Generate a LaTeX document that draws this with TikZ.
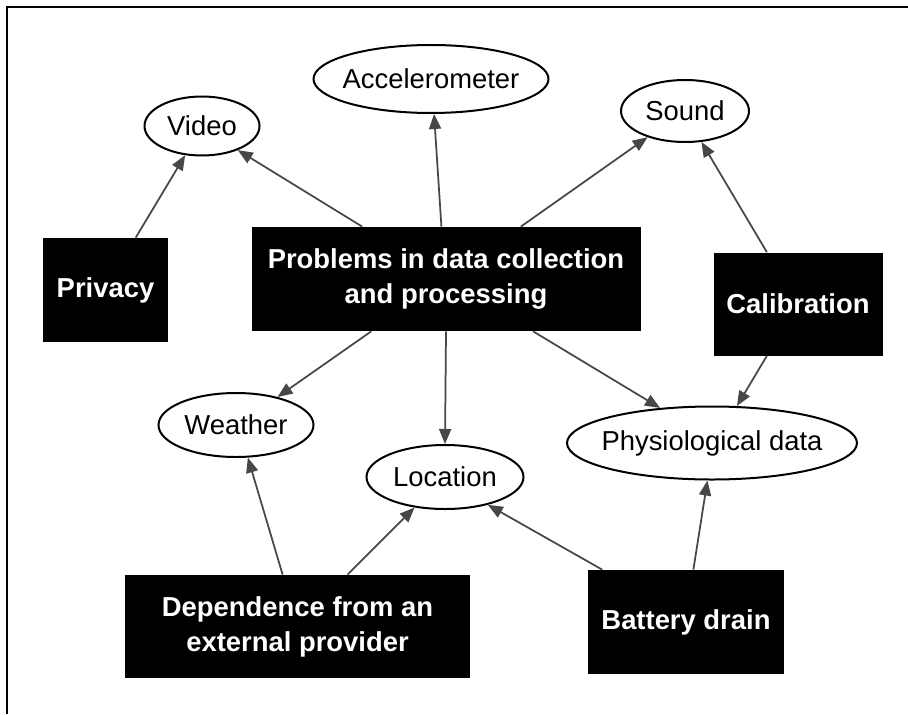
\documentclass[tikz,border=0pt]{standalone}
\usepackage{fontspec}
\setmainfont{Liberation Sans}
\usetikzlibrary{arrows.meta,shapes.geometric}
\newcommand{\ovtext}[1]{\makebox[0pt]{#1}}
\tikzset{
  issue/.style={fill=black, text=white, font=\fontsize{15.6}{20}\selectfont\bfseries, align=center, inner sep=0pt},
  source/.style={ellipse, draw, line width=0.4mm, font=\fontsize{15.6}{20}\selectfont, inner sep=0pt},
  link/.style={draw=black!72, line width=0.35mm, -{Triangle[length=3mm,width=2.4mm]}}
}
\begin{document}
\begin{tikzpicture}[x=0.2mm, y=-0.2mm]
  \useasboundingbox (0,0) rectangle (908,714);
  \draw [line width=0.5mm] (7,714) -- (7,7) -- (908,7);
  % problems
  \node[issue, minimum width=77.8mm, minimum height=20.8mm] (prob) at (446,279) {Problems in data collection\\and processing};
  \node[issue, minimum width=25mm, minimum height=20.8mm] (priv) at (105.5,290) {Privacy};
  \node[issue, minimum width=33.8mm, minimum height=20.6mm] (cal) at (798,304) {Calibration};
  \node[issue, minimum width=69mm, minimum height=20.6mm] (dep) at (297.5,626.5) {Dependence from an\\external provider};
  \node[issue, minimum width=39.2mm, minimum height=20.8mm] (bat) at (686,622) {Battery drain};
  % data sources
  \node[source, minimum width=23mm, minimum height=11.8mm] (vid) at (202,126) {\ovtext{Video}};
  \node[source, minimum width=47mm, minimum height=13.6mm] (acc) at (431,79) {\ovtext{Accelerometer}};
  \node[source, minimum width=25.6mm, minimum height=12.4mm] (snd) at (685,111) {\ovtext{Sound}};
  \node[source, minimum width=31mm, minimum height=12.8mm] (wea) at (236,425) {\ovtext{Weather}};
  \node[source, minimum width=31.4mm, minimum height=12.8mm] (loc) at (445,477) {\ovtext{Location}};
  \node[source, minimum width=58mm, minimum height=14.6mm] (phy) at (712,443) {\ovtext{Physiological data}};
  % arrows
  \draw [link] (prob.148) -- (vid.-34);
  \draw [link] (priv.60) -- (vid.-120);
  \draw [link] (prob.95.5) -- (acc.-85);
  \draw [link] (prob.35.5) -- (snd.-145);
  \draw [link] (cal.121) -- (snd.-62.6);
  \draw [link] (cal.-121) -- (phy.56.7);
  \draw [link] (prob.-31.8) -- (phy.146);
  \draw [link] (prob.-145) -- (wea.34.7);
  \draw [link] (prob.south) -- (loc.north);
  \draw [link] (dep.106.7) -- (wea.-70);
  \draw [link] (dep.46) -- (loc.-135);
  \draw [link] (bat.148.8) -- (loc.-33.7);
  \draw [link] (bat.82) -- (phy.-97.7);
\end{tikzpicture}
\end{document}
